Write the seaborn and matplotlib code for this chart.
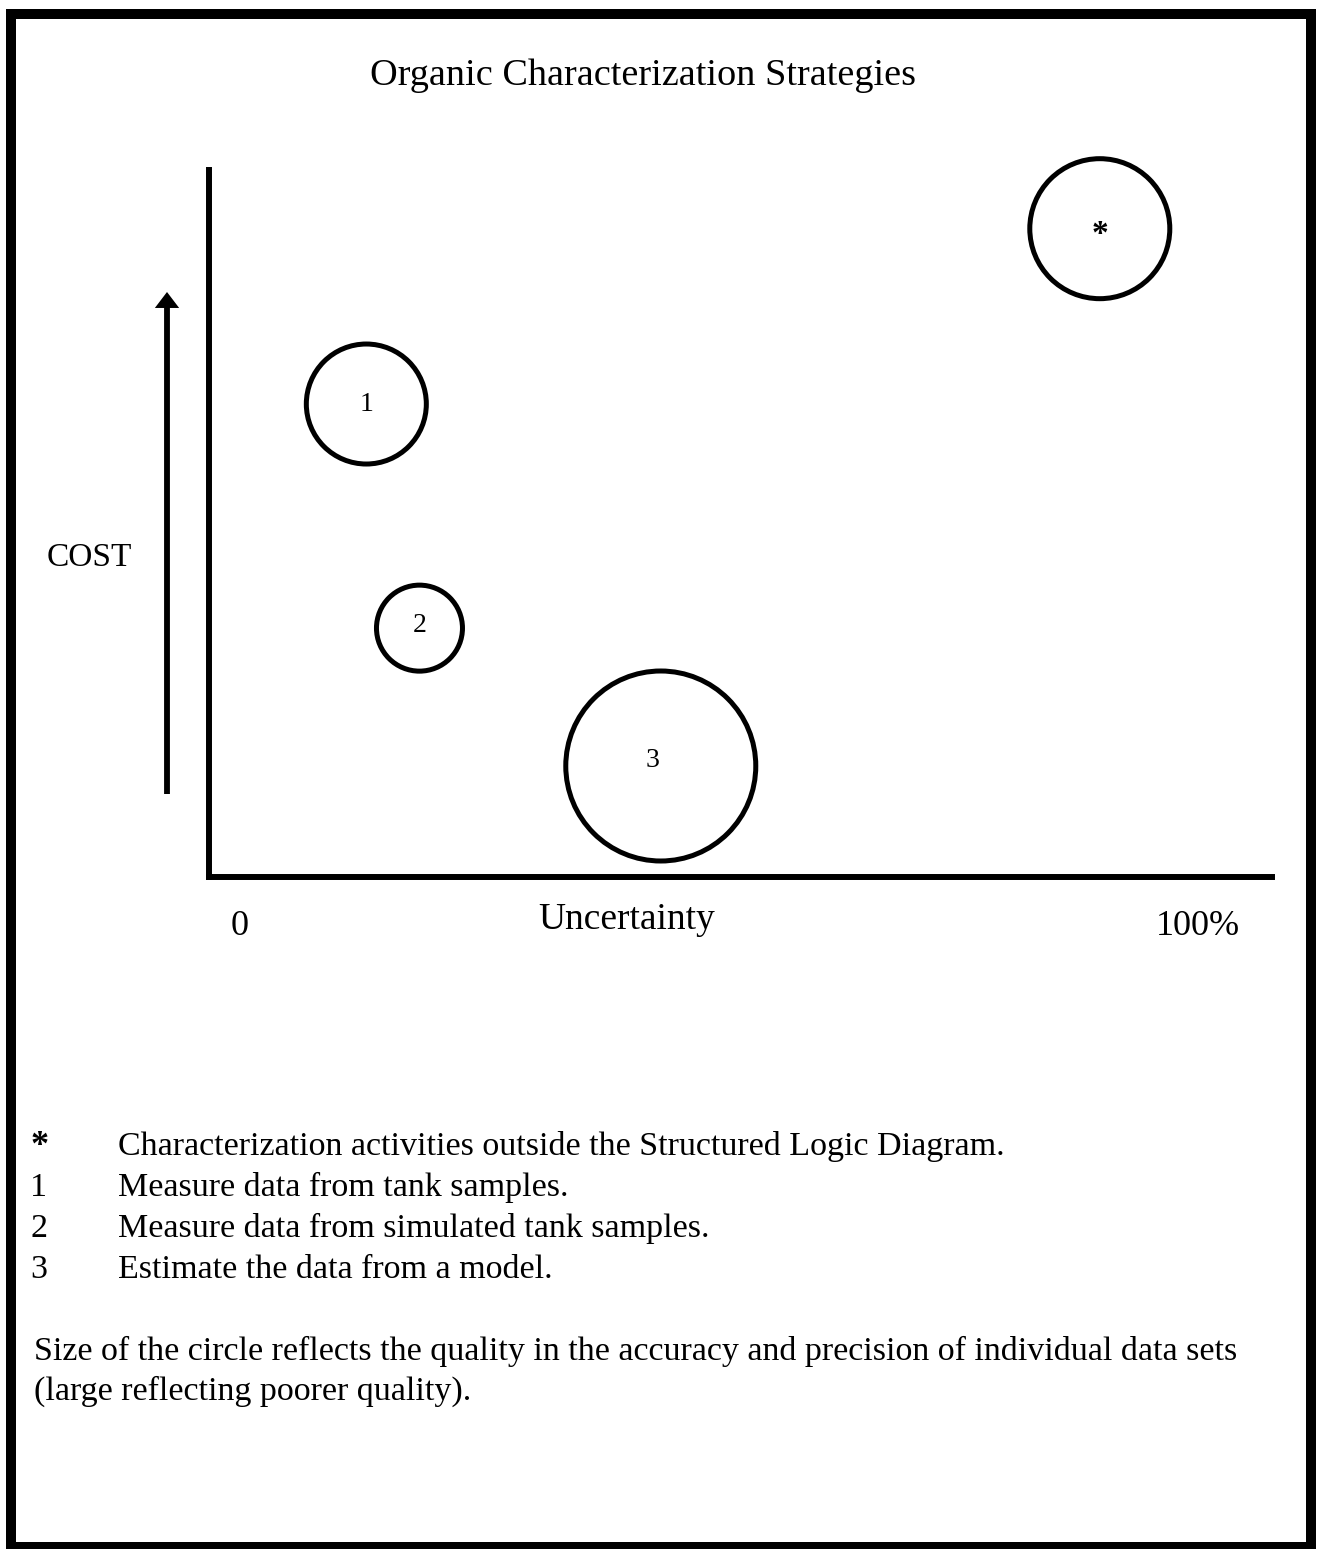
import matplotlib
matplotlib.use("Agg")
import matplotlib.pyplot as plt
from matplotlib.patches import Rectangle
import seaborn as sns
import pandas as pd
import numpy as np

# ---- data ----
title = "Organic Characterization Strategies"
point_labels = ["*", "1", "2", "3"]
uncertainty = [83.8, 14.8, 19.8, 42.5]      # % (x)
cost = [91.7, 66.9, 35.2, 15.7]             # relative cost (y)
circle_radius_px = [70, 60, 43, 95]         # circle size (larger = poorer quality)
x_tick_values = [2.9, 93.0]
x_tick_labels = ["0", "100%"]
x_label = "Uncertainty"
y_label = "COST"
legend_keys = ["*", "1", "2", "3"]
legend_texts = [
    "Characterization activities outside the Structured Logic Diagram.",
    "Measure data from tank samples.",
    "Measure data from simulated tank samples.",
    "Estimate the data from a model.",
]
note_lines = [
    "Size of the circle reflects the quality in the accuracy and precision of individual data sets",
    "(large reflecting poorer quality).",
]

W, H = 1320, 1549
sns.set_theme(style="white")
plt.rcParams["font.family"] = ["Liberation Serif", "DejaVu Serif"]

fig = plt.figure(figsize=(W / 100, H / 100), dpi=100)
fig.patch.set_facecolor("white")

def fx(px):
    return px / W

def fy(py):
    return 1 - py / H

# axes box: x from 209 to 1272 px, y from 170 to 877 px
ax = fig.add_axes([fx(209), fy(877), fx(1272) - fx(209), fy(170) - fy(877)])
ax.set_facecolor("none")

df = pd.DataFrame({"uncertainty": uncertainty, "cost": cost, "label": point_labels})
marker_area = (1.44 * np.array(circle_radius_px, dtype=float)) ** 2

sns.scatterplot(data=df, x="uncertainty", y="cost", ax=ax, s=marker_area,
                facecolor="none", edgecolor="black", linewidth=3.6,
                clip_on=False, legend=False)

# label offsets (points) so the labels sit where the reference shows them
label_offsets = {"*": (0, -4.5), "1": (0, 0), "2": (0, 2), "3": (-6, 4)}
for xv, yv, lab in zip(uncertainty, cost, point_labels):
    is_star = lab == "*"
    ax.annotate(lab, xy=(xv, yv), xytext=label_offsets[lab], textcoords="offset points",
                ha="center", va="center", fontsize=24 if is_star else 20,
                fontweight="bold" if is_star else "normal", color="black")

ax.set_xlim(0, 100)
ax.set_ylim(0, 100)
for side in ["top", "right"]:
    ax.spines[side].set_visible(False)
for side in ["left", "bottom"]:
    ax.spines[side].set_linewidth(4.3)
    ax.spines[side].set_color("black")
    ax.spines[side].set_capstyle("projecting")

ax.set_yticks([])
ax.set_xticks(x_tick_values)
ax.set_xticklabels(x_tick_labels, fontsize=26, color="black")
ax.tick_params(axis="x", length=0, pad=24)

ax.set_xlabel(x_label, fontsize=27, color="black", va="baseline")
ax.xaxis.set_label_coords((627 - 209) / 1063, (877 - 929) / 707)
ax.set_ylabel(y_label, fontsize=24, color="black", rotation=0, va="baseline", ha="center")
ax.yaxis.set_label_coords((89 - 209) / 1063, (877 - 566) / 707)

# COST arrow (filled, sharp head)
ax.annotate("", xy=(167, H - 292), xytext=(167, H - 794),
            xycoords="figure pixels", textcoords="figure pixels",
            arrowprops=dict(arrowstyle="simple,head_length=1.15,head_width=1.75,tail_width=0.42",
                            mutation_scale=10, lw=0, fc="black", ec="none",
                            shrinkA=0, shrinkB=0))

# title
fig.text(fx(643), fy(85), title, ha="center", va="baseline", fontsize=27.5, color="black")

# legend
for i, (k, t) in enumerate(zip(legend_keys, legend_texts)):
    yb = 1155 + 41 * i
    if k == "*":
        fig.text(fx(30), fy(yb), k, ha="left", va="baseline", fontsize=26,
                 fontweight="bold", color="black")
    else:
        fig.text(fx(30), fy(yb), k, ha="left", va="baseline", fontsize=24.5, color="black")
    fig.text(fx(118), fy(yb), t, ha="left", va="baseline", fontsize=24.5, color="black")

for i, line in enumerate(note_lines):
    fig.text(fx(34), fy(1360 + 40 * i), line, ha="left", va="baseline", fontsize=24.5, color="black")

# outer frame
fig.add_artist(Rectangle((fx(11), fy(1547)), fx(1311) - fx(11), fy(14) - fy(1547),
                         transform=fig.transFigure, fill=False, lw=7.2, ec="black"))

fig.savefig("out.png", dpi=100)
